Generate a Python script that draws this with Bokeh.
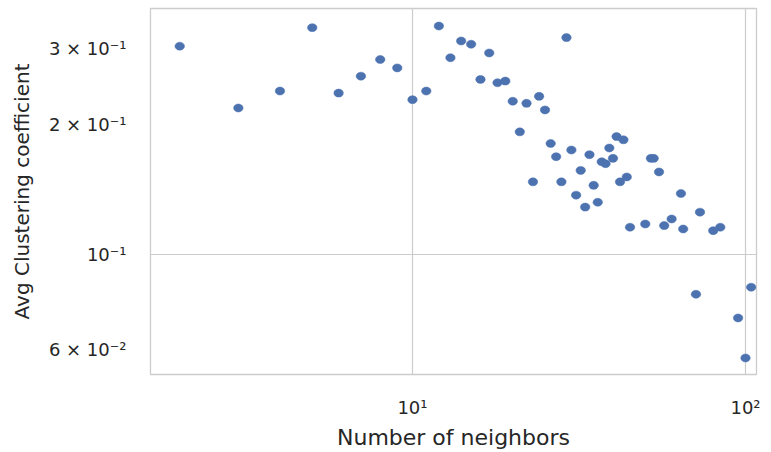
from bokeh.plotting import figure
from bokeh.models import FixedTicker, Range1d, ColumnDataSource
from bokeh.embed import file_html
from bokeh.resources import INLINE

neighbors = [2, 3, 4, 5, 6, 7, 8, 9, 10, 11, 12, 13, 14, 15, 16, 17, 18, 19, 20,
             21, 22, 23, 24, 25, 26, 27, 28, 29, 30, 31, 32, 33, 34, 35, 36, 37,
             38, 39, 40, 41, 42, 43, 44, 45, 50, 52, 53, 55, 57, 60, 64, 65, 71,
             73, 80, 84, 95, 100, 104]
clustering = [0.304, 0.2185, 0.2392, 0.3357, 0.2366, 0.2590, 0.2831, 0.2707,
              0.2284, 0.2392, 0.3386, 0.2858, 0.3126, 0.3072, 0.2545, 0.2932,
              0.2500, 0.2523, 0.2265, 0.1923, 0.2240, 0.1472, 0.2325, 0.2162,
              0.1807, 0.1684, 0.1472, 0.3183, 0.1745, 0.1371, 0.1565, 0.1286,
              0.1702, 0.1445, 0.1320, 0.1639, 0.1622, 0.1764, 0.1669, 0.1875,
              0.1472, 0.1843, 0.1511, 0.1155, 0.1175, 0.1669, 0.1669, 0.1552,
              0.1165, 0.1207, 0.1383, 0.1144, 0.0807, 0.1252, 0.1134, 0.1155,
              0.0711, 0.0574, 0.0838]

x_ticks = [10, 100]
x_tick_labels = ["10¹", "10²"]
y_ticks = [0.06, 0.1, 0.2, 0.3]
y_tick_labels = ["6 × 10⁻²", "10⁻¹", "2 × 10⁻¹", "3 × 10⁻¹"]

GREY = "#262626"
GRID = "#cccccc"

p = figure(width=771, height=452, x_axis_type="log", y_axis_type="log",
           output_backend="svg", toolbar_location=None,
           x_range=Range1d(1.634, 107.9), y_range=Range1d(0.05255, 0.3719))
p.min_border_left = 150
p.min_border_right = 15
p.min_border_top = 8
p.min_border_bottom = 76

src = ColumnDataSource(dict(x=neighbors, y=clustering))
p.ellipse(x="x", y="y", width=9.5, height=8, width_units="screen",
          height_units="screen", source=src, fill_color="#4c72b0",
          line_color="#4c72b0", line_width=0.5)

p.xaxis.ticker = FixedTicker(ticks=x_ticks)
p.yaxis.ticker = FixedTicker(ticks=y_ticks)
p.xaxis.major_label_overrides = {t: l for t, l in zip(x_ticks, x_tick_labels)}
p.yaxis.major_label_overrides = {t: l for t, l in zip(y_ticks, y_tick_labels)}
p.xgrid.ticker = FixedTicker(ticks=x_ticks)
p.ygrid.ticker = FixedTicker(ticks=[0.1])

for ax in (p.xaxis, p.yaxis):
    ax.axis_line_color = None
    ax.major_tick_line_color = None
    ax.minor_tick_line_color = None
    ax.major_label_text_font = "DejaVu Sans"
    ax.major_label_text_font_size = "18px"
    ax.major_label_text_color = GREY
    ax.axis_label_text_font = "DejaVu Sans"
    ax.axis_label_text_font_style = "normal"
    ax.axis_label_text_color = GREY

p.xaxis.axis_label = "Number of neighbors"
p.yaxis.axis_label = "Avg Clustering coefficient"
p.xaxis.axis_label_text_font_size = "22px"
p.yaxis.axis_label_text_font_size = "20px"
p.xaxis.major_label_standoff = 16
p.yaxis.major_label_standoff = 18
p.xaxis.axis_label_standoff = 4
p.yaxis.axis_label_standoff = 12

p.grid.grid_line_color = GRID
p.grid.grid_line_width = 1.2
p.outline_line_color = GRID
p.outline_line_width = 1.3
p.background_fill_color = "white"
p.border_fill_color = "white"

open("out.html", "w").write(file_html(p, INLINE))
